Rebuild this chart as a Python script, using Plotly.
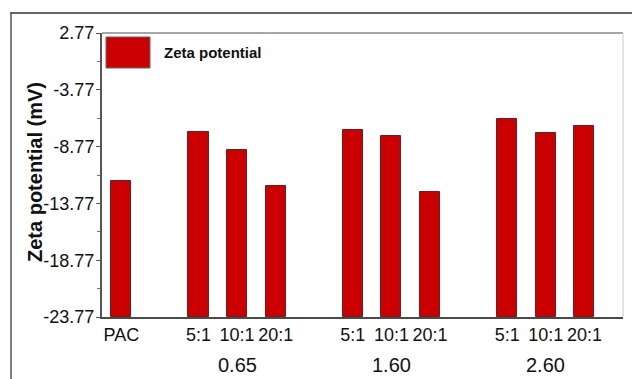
import plotly.graph_objects as go

# Zeta potential (mV) of plain PAC and of the modified samples,
# grouped by loading (0.65 / 1.60 / 2.60) and mass ratio (5:1, 10:1, 20:1)
reference_label = "PAC"
reference_zeta = -11.8
groups = ["0.65", "1.60", "2.60"]
ratios = ["5:1", "10:1", "20:1"]
zeta_065 = [-7.5, -9.1, -12.2]
zeta_160 = [-7.3, -7.8, -12.8]
zeta_260 = [-6.3, -7.6, -7.0]

# y-axis tick labels (evenly spaced 5 mV steps)
y_base = -23.77
y_tick_text = ["-23.77", "-18.77", "-13.77", "-8.77", "-3.77", "2.77"]

series = [zeta_065, zeta_160, zeta_260]

# x slots: PAC alone, then each group of three ratios separated by an empty slot
x_pos = [0]
labels = [reference_label]
values = [reference_zeta]
for g, vals in enumerate(series):
    for i, v in enumerate(vals):
        x_pos.append(2 + 4 * g + i)
        labels.append(ratios[i])
        values.append(v)
group_centers = [2 + 4 * g + 1 for g in range(len(groups))]

heights = [v - y_base for v in values]
y_tick_vals = [y_base + 5 * k for k in range(len(y_tick_text))]
y_top = y_tick_vals[-1]

BAR_RED = "#CC0000"
SANS = "Liberation Sans, Arial"
TICK_FONT = dict(family=SANS, size=18, color="#111111")

fig = go.Figure()
fig.add_trace(go.Bar(
    x=x_pos, y=heights, base=y_base,
    width=0.52,
    marker=dict(color=BAR_RED, line=dict(color="#6a2020", width=1)),
    name="Zeta potential",
    customdata=values,
    hovertemplate="%{customdata} mV<extra></extra>",
    showlegend=False,
))

W, H = 632, 379
ML, MR, MT, MB = 102, 9, 33, 62
pw, ph = W - ML - MR, H - MT - MB


def px_x(px):
    return (px - ML) / pw


def px_y(py):
    return (H - MB - py) / ph


fig.update_layout(
    width=W, height=H,
    margin=dict(l=ML, r=MR, t=MT, b=MB, pad=0),
    paper_bgcolor="white", plot_bgcolor="white",
    bargap=0,
    showlegend=False,
    xaxis=dict(
        range=[-0.5, 13], tickmode="array", tickvals=x_pos, ticktext=labels,
        tickangle=0,
        showgrid=False, zeroline=False, ticks="", ticklen=0,
        showline=True, linecolor="#4a4a4a", linewidth=2,
        tickfont=TICK_FONT, fixedrange=True,
    ),
    yaxis=dict(
        range=[y_base, y_top], tickmode="array", tickvals=y_tick_vals, ticktext=y_tick_text,
        showgrid=False, zeroline=False, ticks="outside", ticklen=4, tickwidth=1,
        tickcolor="#555555", ticklabelstandoff=-2,
        minor=dict(tick0=y_base, dtick=2.5, ticks="outside", ticklen=3,
                   tickcolor="#777777", tickwidth=1, showgrid=False),
        showline=True, linecolor="#555555", linewidth=2,
        tickfont=TICK_FONT, fixedrange=True,
    ),
)

shapes = [
    # top and right edges of the plotting frame
    dict(type="line", xref="paper", yref="paper", x0=0, x1=1, y0=1, y1=1,
         line=dict(color="#8a8a8a", width=1.5)),
    dict(type="line", xref="paper", yref="paper", x0=1, x1=1, y0=0, y1=1,
         line=dict(color="#c8c8c8", width=1)),
    # outer panel border (top and left)
    dict(type="line", xref="paper", yref="paper", x0=px_x(10), x1=px_x(640),
         y0=px_y(13), y1=px_y(13), line=dict(color="#666666", width=2)),
    dict(type="line", xref="paper", yref="paper", x0=px_x(11), x1=px_x(11),
         y0=px_y(13), y1=px_y(390), line=dict(color="#555555", width=1.5)),
    # legend swatch
    dict(type="rect", xref="paper", yref="paper", x0=px_x(106), x1=px_x(150),
         y0=px_y(68), y1=px_y(37), fillcolor=BAR_RED,
         line=dict(color="#666666", width=1)),
]
fig.update_layout(shapes=shapes)

annotations = [
    dict(text="<b>Zeta potential</b>", x=px_x(162), y=px_y(52), xref="paper", yref="paper",
         xanchor="left", yanchor="middle", showarrow=False,
         font=dict(family=SANS, size=15, color="#111111")),
    dict(text="<b>Zeta potential (mV)</b>", x=px_x(35), y=px_y(172), xref="paper",
         yref="paper", xanchor="center", yanchor="middle", textangle=-90, showarrow=False,
         font=dict(family=SANS, size=20, color="#111111")),
]
for g, c in zip(groups, group_centers):
    annotations.append(dict(
        text=g, x=c, y=px_y(365), xref="x", yref="paper",
        xanchor="center", yanchor="middle", showarrow=False,
        font=dict(family=SANS, size=20, color="#111111"),
    ))
fig.update_layout(annotations=annotations)

fig.write_html("out.html")
